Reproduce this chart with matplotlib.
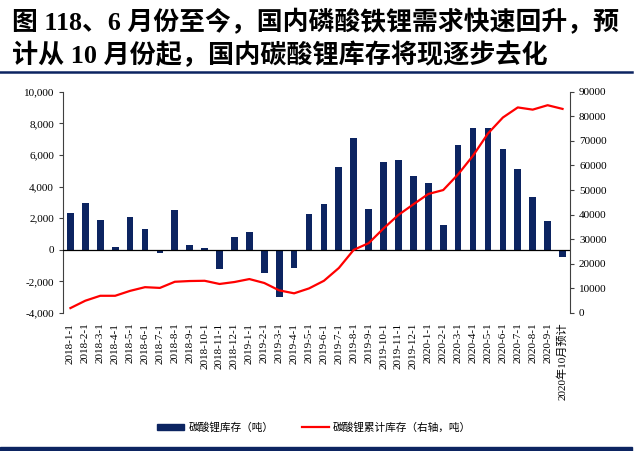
import numpy as np
import matplotlib.pyplot as plt
from matplotlib.lines import Line2D
from matplotlib.patches import Rectangle, Patch
from matplotlib.ticker import FuncFormatter

plt.rcParams['font.family'] = ['Liberation Serif', 'Noto Sans CJK SC', 'DejaVu Sans']

months = [f"2018-{m}-1" for m in range(1, 13)] + \
         [f"2019-{m}-1" for m in range(1, 13)] + \
         [f"2020-{m}-1" for m in range(1, 10)] + ["2020年10月预计"]

# 碳酸锂库存（吨）
stock = [2350, 2950, 1900, 200, 2050, 1300, -230, 2500, 300, 100, -1200, 780,
         1100, -1500, -3000, -1180, 2250, 2870, 5250, 7100, 2600, 5550, 5700, 4650,
         4250, 1550, 6650, 7700, 7700, 6350, 5100, 3350, 1850, -450]

# 碳酸锂累计库存（右轴，吨）
cumulative = [2000, 5000, 7000, 7000, 9000, 10500, 10200, 12700, 13000, 13100, 11800, 12600,
              13800, 12200, 9200, 8000, 10000, 13100, 18300, 25700, 28400, 34400, 39900, 44200,
              48400, 50000, 56400, 64000, 73000, 79500, 83600, 82700, 84500, 83000]

navy = "#0c2461"
red = "#ff0000"
spine_col = "#404040"

fig = plt.figure(figsize=(6.4, 4.51), dpi=100)
ax = fig.add_axes([0.0984, 0.306, 0.7922, 0.4907])
x = np.arange(len(months))

ax.bar(x, stock, width=0.45, color=navy, zorder=2)
ax.axhline(0, color="black", lw=0.9, zorder=3)
ax.set_xlim(-0.5, len(months) - 0.5)
ax.set_ylim(-4000, 10000)
ax.set_yticks(range(-4000, 10001, 2000))
ax.yaxis.set_major_formatter(FuncFormatter(lambda v, p: f"{int(v):,}"))
ax.set_xticks(x)
ax.set_xticklabels(months, rotation=90, fontsize=8)
ax.tick_params(axis="x", length=0, pad=7)
ax.tick_params(axis="y", labelsize=8, length=3, color=spine_col, width=0.8)
for s in ["top", "bottom", "right"]:
    ax.spines[s].set_visible(False)
ax.spines["left"].set_color(spine_col)
ax.spines["left"].set_linewidth(0.8)

ax2 = ax.twinx()
ax2.plot(x, cumulative, color=red, lw=1.6)
ax2.set_ylim(0, 90000)
ax2.set_yticks(range(0, 90001, 10000))
ax2.tick_params(axis="y", labelsize=8, length=3, color=spine_col, width=0.8)
for s in ["top", "bottom", "left"]:
    ax2.spines[s].set_visible(False)
ax2.spines["right"].set_color(spine_col)
ax2.spines["right"].set_linewidth(0.8)

# title
fig.text(0.018, 0.951, "图 118、6 月份至今，国内磷酸铁锂需求快速回升，预",
         fontsize=18.6, fontweight="bold", va="center", ha="left")
fig.text(0.018, 0.878, "计从 10 月份起，国内碳酸锂库存将现逐步去化",
         fontsize=18.8, fontweight="bold", va="center", ha="left")
fig.add_artist(Line2D([0.0, 0.988], [0.84, 0.84], color=navy, lw=1.8))
fig.add_artist(Rectangle((0.0, 0.0), 0.988, 0.008, color=navy, transform=fig.transFigure))

handles = [Patch(color=navy), Line2D([0], [0], color=red, lw=1.6)]
labels = ["碳酸锂库存（吨）", "碳酸锂累计库存（右轴，吨）"]
fig.legend(handles, labels, loc="center", bbox_to_anchor=(0.491, 0.053), ncol=2,
           frameon=False, fontsize=7.7, handlelength=2.5, handleheight=0.5,
           columnspacing=2.7, handletextpad=0.4)

fig.savefig("out.png", dpi=100)
